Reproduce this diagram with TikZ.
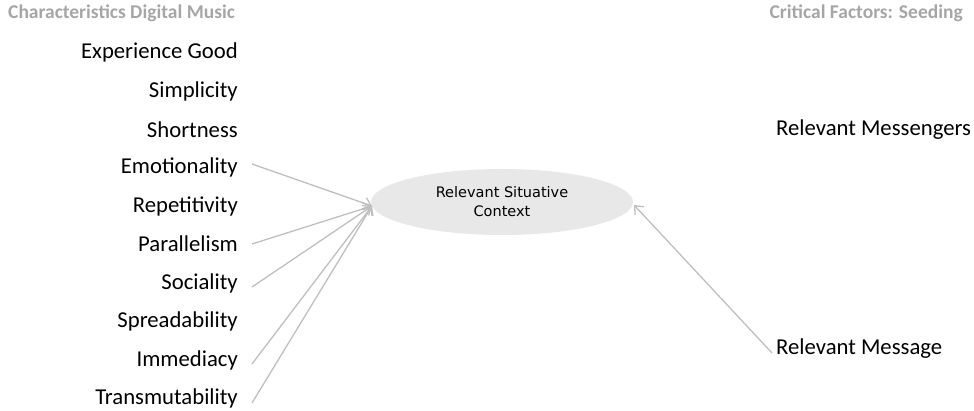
\documentclass[tikz,border=0pt]{standalone}
\usepackage{fontspec}
\setmainfont{Carlito}
\newfontfamily\ellfont{DejaVu Sans}
\usetikzlibrary{shapes.geometric,arrows.meta}
\definecolor{headgray}{HTML}{A6A6A6}
\definecolor{linkgray}{HTML}{BFBFBF}
\definecolor{ellfill}{HTML}{E8E8E8}
\begin{document}
\begin{tikzpicture}[x=1pt,y=-1pt,
  head/.style={font=\bfseries\fontsize{19.5}{22}\selectfont, text=headgray, inner sep=0pt},
  trait/.style={font=\fontsize{22.7}{26}\selectfont, anchor=east, inner sep=0pt},
  factor/.style={font=\fontsize{22.7}{26}\selectfont, anchor=west, inner sep=0pt},
  link/.style={draw=linkgray, line width=1.3pt, -{Straight Barb[length=7pt,width=12pt]}}]
\useasboundingbox (0,0) rectangle (974,411);
% column headings
\node[head, anchor=west] (hl) at (8,13) {Characteristics Digital Music};
\node[head, anchor=east] (hr) at (963,13) {Critical Factors: Seeding};
% characteristics, right aligned
\node[trait] (t1) at (238,52) {Experience Good};
\node[trait] (t2) at (238,91) {Simplicity};
\node[trait] (t3) at (238,130) {Shortness};
\node[trait] (t4) at (238,167) {Emotionality};
\node[trait] (t5) at (238,206) {Repetitivity};
\node[trait] (t6) at (238,244) {Parallelism};
\node[trait] (t7) at (238,283) {Sociality};
\node[trait] (t8) at (238,321) {Spreadability};
\node[trait] (t9) at (238,360) {Immediacy};
\node[trait] (t10) at (238,398) {Transmutability};
% seeding factors
\node[factor] (f1) at (776,130) {Relevant Messengers};
\node[factor] (f2) at (776,349) {Relevant Message};
% central context
\node[ellipse, fill=ellfill, minimum width=262pt, minimum height=66pt, inner sep=0pt,
      align=center, font=\ellfont\fontsize{14.5}{19}\selectfont] (ctx) at (502,202)
      {Relevant Situative\\Context};
\coordinate (tip) at (372,206);
\coordinate (tipr) at (634,205);
% connectors
\draw[link] ([xshift=14pt,yshift=3pt]t4.east) -- (tip);
\draw[link] ([xshift=14pt]t6.east) -- (tip);
\draw[link] ([xshift=14pt,yshift=-4pt]t7.east) -- (tip);
\draw[link] ([xshift=14pt,yshift=-4pt]t9.east) -- (tip);
\draw[link] ([xshift=14pt,yshift=-5pt]t10.east) -- (tip);
\draw[link] ([xshift=-4pt,yshift=-4pt]f2.west) -- (tipr);
\end{tikzpicture}
\end{document}
